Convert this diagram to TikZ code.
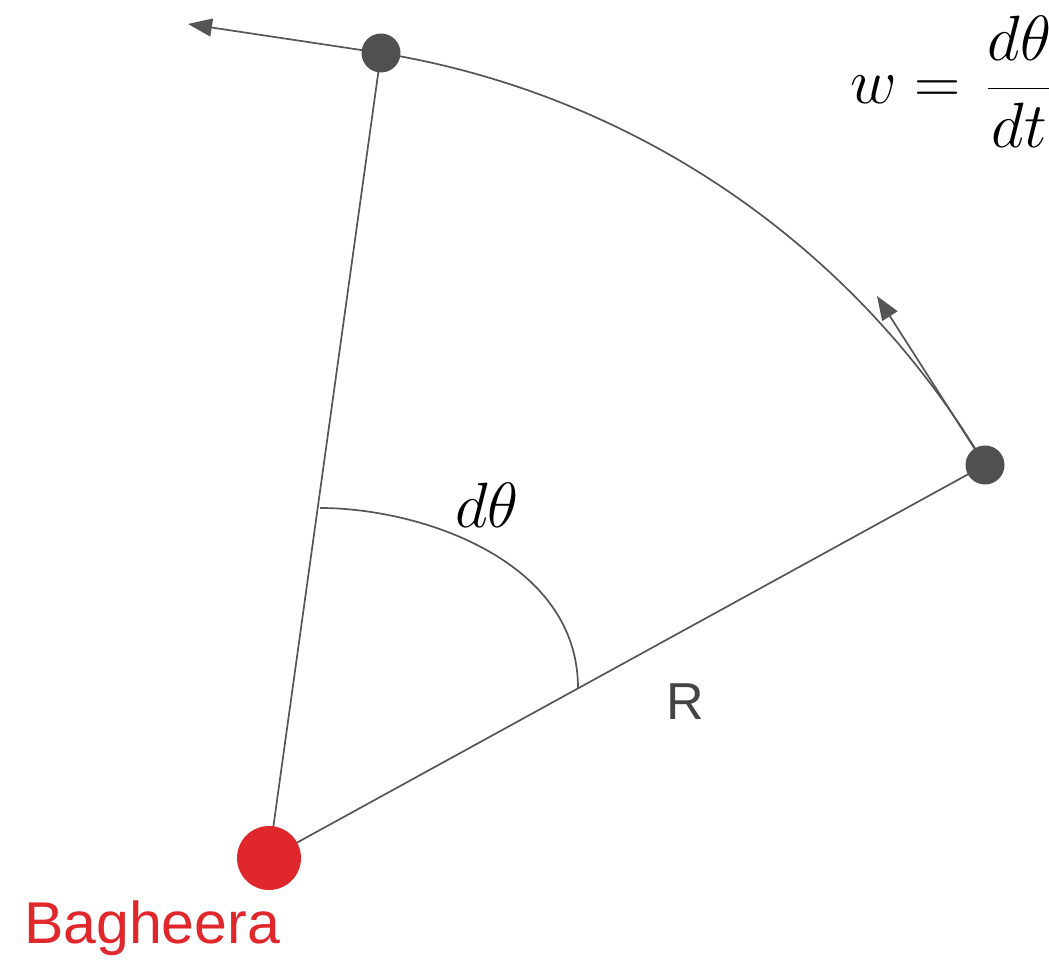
\RequirePackage{fix-cm}
\documentclass[tikz,border=0pt]{standalone}
\usepackage{fontspec}
\setsansfont{Liberation Sans}
\usetikzlibrary{arrows.meta,calc}
\definecolor{bagred}{HTML}{E0282C}
\definecolor{dotgray}{HTML}{505050}
\definecolor{linegray}{HTML}{555555}
\tikzset{
  conn/.style={draw=linegray, line width=1.7pt},
  vec/.style={conn, -{Triangle[length=24pt,width=18pt]}},
  pt/.style={circle, fill=dotgray, minimum size=39pt, inner sep=0pt},
  bag/.style={circle, fill=bagred, minimum size=64pt, inner sep=0pt},
  mathlbl/.style={inner sep=0pt, font=\fontsize{64}{70}\selectfont},
}
\begin{document}
\begin{tikzpicture}[x=1pt,y=1pt]
\useasboundingbox (0,0) rectangle (1049,960);
\clip (0,0) rectangle (1049,960);
% positions
\coordinate (B) at (269,102);
\coordinate (topTip) at (188,936);
\coordinate (rightTip) at (877,664);
\coordinate (Tp) at (381,907);
\coordinate (Rp) at (985,495);
% radii
\draw[conn] (B) -- (Tp);
\draw[conn] (B) -- (Rp);
% big arc
\draw[conn] (Tp) arc[start angle=80.8, end angle=30.6, radius=862];
% small angle arc
\draw[conn] (320,452) .. controls (420,452) and (578,400) .. (578,272);
% velocity vectors
\draw[vec] (Tp) -- (topTip);
\draw[vec] (Rp) -- (rightTip);
% points
\node[bag] (bag) at (B) {};
\node[pt] (top) at (Tp) {};
\node[pt] (right) at (Rp) {};
% labels
\node[mathlbl] (dth) at (487,455) {$d\theta$};
\node[inner sep=0pt, font=\sffamily\fontsize{52}{56}\selectfont, text=linegray!80!black] (R) at (685,258) {R};
\node[inner sep=0pt, font=\sffamily\fontsize{59}{62}\selectfont, text=bagred] (name) at (152,32) {Bagheera};
\node[mathlbl, anchor=west] (eq) at (850,878) {$w = \hspace{8pt}\displaystyle\frac{d\theta}{dt}$};
\end{tikzpicture}
\end{document}
